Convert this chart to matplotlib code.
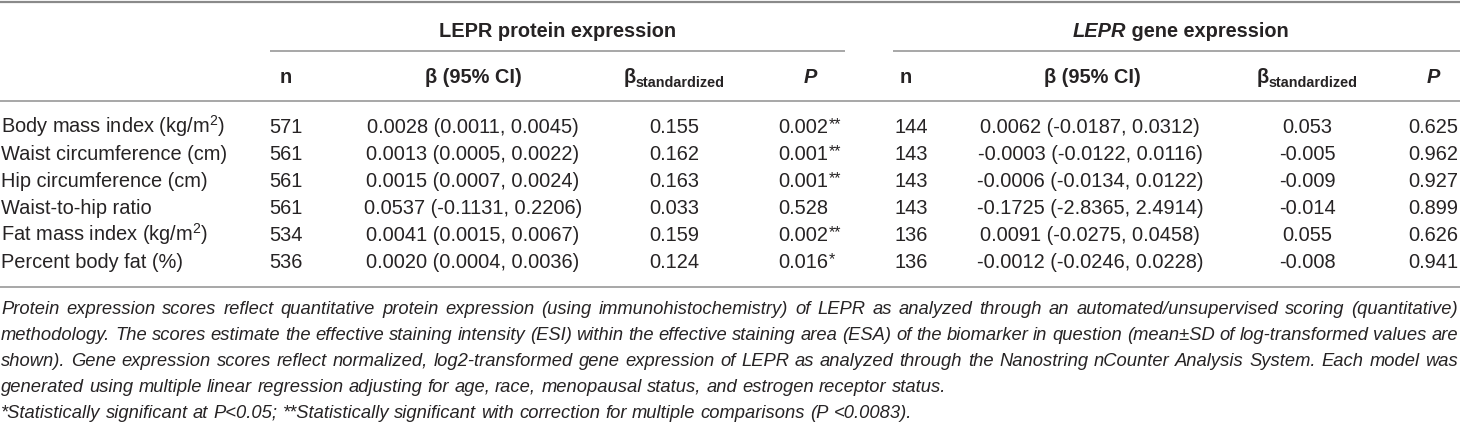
import matplotlib
matplotlib.use("Agg")
import matplotlib.pyplot as plt

# ---------------- data ----------------
labels = ["Body mass index (kg/m$^2$)", "Waist circumference (cm)", "Hip circumference (cm)",
          "Waist-to-hip ratio", "Fat mass index (kg/m$^2$)", "Percent body fat (%)"]
prot_n = [571, 561, 561, 561, 534, 536]
prot_beta = [0.0028, 0.0013, 0.0015, 0.0537, 0.0041, 0.0020]
prot_lo = [0.0011, 0.0005, 0.0007, -0.1131, 0.0015, 0.0004]
prot_hi = [0.0045, 0.0022, 0.0024, 0.2206, 0.0067, 0.0036]
prot_std = [0.155, 0.162, 0.163, 0.033, 0.159, 0.124]
prot_p = [0.002, 0.001, 0.001, 0.528, 0.002, 0.016]
prot_sig = ["**", "**", "**", "", "**", "*"]

gene_n = [144, 143, 143, 143, 136, 136]
gene_beta = [0.0062, -0.0003, -0.0006, -0.1725, 0.0091, -0.0012]
gene_lo = [-0.0187, -0.0122, -0.0134, -2.8365, -0.0275, -0.0246]
gene_hi = [0.0312, 0.0116, 0.0122, 2.4914, 0.0458, 0.0228]
gene_std = [0.053, -0.005, -0.009, -0.014, 0.055, -0.008]
gene_p = [0.625, 0.962, 0.927, 0.899, 0.626, 0.941]

# footnote lines as in the reference (True = justified)
footnote_lines = [
    ("Protein expression scores reflect quantitative protein expression (using immunohistochemistry) "
     "of LEPR as analyzed through an automated/unsupervised scoring (quantitative)", True),
    ("methodology. The scores estimate the effective staining intensity (ESI) within the effective "
     "staining area (ESA) of the biomarker in question (mean\u00b1SD of log-transformed values are", True),
    ("shown). Gene expression scores reflect normalized, log2-transformed gene expression of LEPR "
     "as analyzed through the Nanostring nCounter Analysis System. Each model was", True),
    ("generated using multiple linear regression adjusting for age, race, menopausal status, and "
     "estrogen receptor status.", False),
    ("*Statistically significant at P<0.05; **Statistically significant with correction for "
     "multiple comparisons (P <0.0083).", False),
]

# ---------------- style ----------------
FONT = "Liberation Sans"
plt.rcParams["font.family"] = [FONT, "DejaVu Sans"]
plt.rcParams["mathtext.fontset"] = "custom"
plt.rcParams["mathtext.rm"] = FONT
plt.rcParams["mathtext.it"] = FONT + ":italic"
plt.rcParams["mathtext.bf"] = FONT + ":bold"

TXT = "#262324"
LINE = "#a7a7a7"
FS = 14.4
FS_FOOT = 13.2

W, H = 1460, 422
fig = plt.figure(figsize=(W / 100, H / 100), dpi=100)
ax = fig.add_axes([0, 0, 1, 1])
ax.set_xlim(0, W)
ax.set_ylim(H, 0)
ax.axis("off")
renderer = fig.canvas.get_renderer()


def twidth(s, **kw):
    t = ax.text(0, 0, s, **kw)
    w = t.get_window_extent(renderer).width
    t.remove()
    return w


def runs(xc, yb, parts, align="center"):
    """parts: list of (text, kwargs, dy)"""
    widths = [twidth(s, **kw) for s, kw, dy in parts]
    total = sum(widths)
    x = xc - total / 2 if align == "center" else xc
    for (s, kw, dy), w in zip(parts, widths):
        ax.text(x, yb + dy, s, va="baseline", ha="left", color=TXT, **kw)
        x += w


# ---------------- lines ----------------
ax.plot([0, W], [1.5, 1.5], color="#8a8a8a", lw=1.6, solid_capstyle="butt")
ax.plot([270, 845], [51, 51], color=LINE, lw=1.4, solid_capstyle="butt")
ax.plot([893, W], [51, 51], color=LINE, lw=1.4, solid_capstyle="butt")
ax.plot([0, W], [101, 101], color=LINE, lw=1.4, solid_capstyle="butt")
ax.plot([0, W], [287, 287], color=LINE, lw=1.4, solid_capstyle="butt")

# ---------------- group headers ----------------
bold = dict(fontsize=FS, fontweight="bold")
runs(558, 37, [("LEPR protein expression", bold, 0)])
runs(1181, 37, [("LEPR", dict(fontsize=FS, fontweight="bold", fontstyle="italic"), 0),
                (" gene expression", bold, 0)])

# ---------------- column headers ----------------
HB = 83
col = dict(n1=286, b1=473, s1=674, p1=810, n2=906, b2=1092, s2=1307, p2=1433)
sub = dict(fontsize=FS * 0.72, fontweight="bold")
for key in ("n1", "n2"):
    runs(col[key], HB, [("n", bold, 0)])
for key in ("b1", "b2"):
    runs(col[key], HB, [("\u03b2 (95% CI)", bold, 0)])
for key in ("s1", "s2"):
    runs(col[key], HB, [("\u03b2", bold, 0), ("standardized", sub, 4)])
for key in ("p1", "p2"):
    runs(col[key], HB, [("P", dict(fontsize=FS, fontweight="bold", fontstyle="italic"), 0)])

# ---------------- data rows ----------------
reg = dict(fontsize=FS)
star = dict(fontsize=FS * 0.8)
for i, lab in enumerate(labels):
    yb = 133 + 27 * i
    ax.text(1, yb, lab, fontsize=FS, color=TXT, va="baseline", ha="left")
    runs(286, yb, [(f"{prot_n[i]}", reg, 0)])
    runs(473, yb, [(f"{prot_beta[i]:.4f} ({prot_lo[i]:.4f}, {prot_hi[i]:.4f})", reg, 0)])
    runs(674, yb, [(f"{prot_std[i]:.3f}", reg, 0)])
    ptxt = f"{prot_p[i]:.3f}"
    pw = twidth(ptxt, **reg)
    x0 = 803 - pw / 2
    ax.text(x0, yb, ptxt, fontsize=FS, color=TXT, va="baseline", ha="left")
    if prot_sig[i]:
        ax.text(x0 + pw + 0.5, yb - 4, prot_sig[i], color=TXT, va="baseline", ha="left", **star)
    runs(911, yb, [(f"{gene_n[i]}", reg, 0)])
    runs(1090, yb, [(f"{gene_beta[i]:.4f} ({gene_lo[i]:.4f}, {gene_hi[i]:.4f})", reg, 0)])
    runs(1307, yb, [(f"{gene_std[i]:.3f}", reg, 0)])
    runs(1433, yb, [(f"{gene_p[i]:.3f}", reg, 0)])

# ---------------- footnotes (justified) ----------------
foot = dict(fontsize=FS_FOOT, fontstyle="italic")
LEFT, RIGHT = 1, 1458
space_w = twidth("a b", **foot) - twidth("ab", **foot)

yb = 314
for line, justify in footnote_lines:
    words = line.split(" ")
    ws = [twidth(w, **foot) for w in words]
    gap = (RIGHT - LEFT - sum(ws)) / (len(words) - 1) if justify else space_w
    x = LEFT
    for w, wd in zip(words, ws):
        ax.text(x, yb, w, color=TXT, va="baseline", ha="left", **foot)
        x += wd + gap
    yb += 26

fig.savefig("out.png", dpi=100)
